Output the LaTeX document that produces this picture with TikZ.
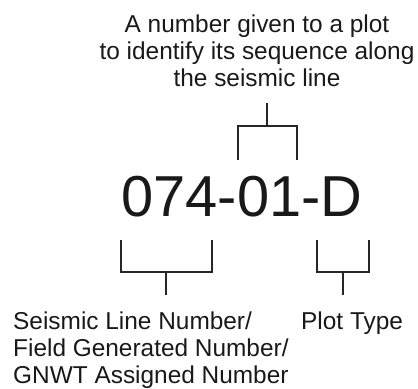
\documentclass[tikz,border=0pt]{standalone}
\usepackage{fontspec}
\setmainfont{Liberation Sans}
\usepackage{tikz}
\usetikzlibrary{positioning}

\begin{document}
\begin{tikzpicture}[
x=1bp, y=-1bp,
every node/.style={inner sep=0pt, text=black!90},
label/.style={font=\fontsize{24.5}{27}\selectfont},
code/.style={font=\fontsize{58}{60}\selectfont},
bracket/.style={draw=black!85, line width=1.3pt}
]
\useasboundingbox (0,0) rectangle (418,389);
\node[code] (code) at (242,197) {074-01-D};
\node[label, align=center, above=89bp of code, xshift=15bp, font=\fontsize{24.5}{27.5}\selectfont] (seq) {A number given to a plot\\ to identify its sequence along\\ the seismic line};
\node[label, align=left, anchor=base west] (line) at (13,383) {Seismic Line Number/\\Field Generated Number/\\GNWT Assigned Number};
\node[label, anchor=base west] (type) at (301,329) {Plot Type};
% bracket ends
\coordinate (seqtop) at (267,103);
\coordinate (seqbar) at (267,126);
\coordinate (seqL) at (238,160);
\coordinate (seqR) at (297,160);
\coordinate (lineL) at (121,240);
\coordinate (lineR) at (212,240);
\coordinate (linebar) at (166,272);
\coordinate (linebot) at (166,295);
\coordinate (typeL) at (317,240);
\coordinate (typeR) at (369,240);
\coordinate (typebar) at (343,272);
\coordinate (typebot) at (343,295);
\draw[bracket] (seqL) |- (seqbar) -| (seqR);
\draw[bracket] (seqtop) -- (seqbar);
\draw[bracket] (lineL) |- (linebar) -| (lineR);
\draw[bracket] (linebar) -- (linebot);
\draw[bracket] (typeL) |- (typebar) -| (typeR);
\draw[bracket] (typebar) -- (typebot);
\end{tikzpicture}
\end{document}
